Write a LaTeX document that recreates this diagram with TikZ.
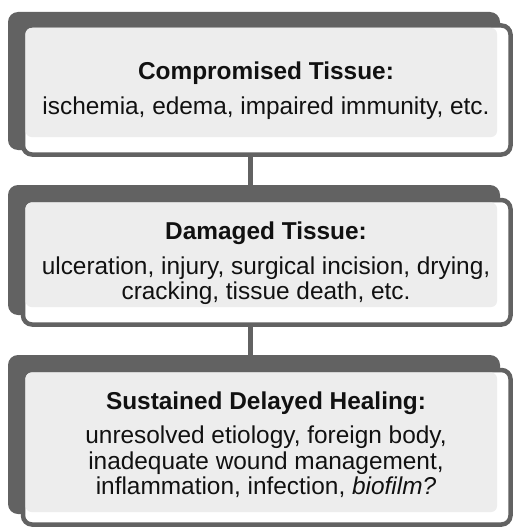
\documentclass[tikz,border=0pt]{standalone}
\usepackage{fontspec}
\setmainfont{Liberation Sans}
\definecolor{dgray}{HTML}{626262}
\definecolor{lgray}{HTML}{EDEDED}
\definecolor{txtc}{HTML}{111111}
\tikzset{
  backbox/.style={fill=dgray, draw=none, rounded corners=10pt, minimum width=492pt, inner sep=0pt},
  frontbox/.style={draw=dgray, line width=4.5pt, fill=white, rounded corners=9pt, minimum width=487.5pt, inner sep=0pt},
  innerfill/.style={fill=lgray, rounded corners=6pt},
  txt/.style={align=center, text=txtc, font=\fontsize{24.4}{25.5}\selectfont, inner sep=0pt},
  link/.style={draw=dgray, line width=5pt}
}
\begin{document}
\begin{tikzpicture}[x=1pt,y=-1pt]
\useasboundingbox (0,0) rectangle (513,527);
% box 1
\node[backbox, minimum height=138pt] (k1) at (254,81) {};
\node[frontbox, minimum height=129pt] (f1) at (266.75,90) {};
\path[innerfill] (25.5,28) rectangle (497,137);
\node[txt] (t1) at (266,90.5) {\textbf{Compromised Tissue:}\\[9.5pt]ischemia, edema, impaired immunity, etc.};
% box 2
\node[backbox, minimum height=130pt] (k2) at (254,250) {};
\node[frontbox, minimum height=124.5pt] (f2) at (266.75,262.25) {};
\path[innerfill] (25.5,202.5) rectangle (497,307);
\node[txt] (t2) at (266,263) {\textbf{Damaged Tissue:}\\[9.5pt]ulceration, injury, surgical incision, drying,\\cracking, tissue death, etc.};
% box 3
\node[backbox, minimum height=159pt] (k3) at (254,434.5) {};
\node[frontbox, minimum height=154.5pt] (f3) at (266.75,447.25) {};
\path[innerfill] (25.5,372.5) rectangle (497,512);
\node[txt] (t3) at (266,445) {\textbf{Sustained Delayed Healing:}\\[8.5pt]unresolved etiology, foreign body,\\inadequate wound management,\\inflammation, infection, \textit{biofilm?}};
% connectors
\draw[link] ([xshift=-16.25pt]f1.south) -- ([xshift=-16.25pt]f1.south |- k2.north);
\draw[link] ([xshift=-16.25pt]f2.south) -- ([xshift=-16.25pt]f2.south |- k3.north);
\end{tikzpicture}
\end{document}
